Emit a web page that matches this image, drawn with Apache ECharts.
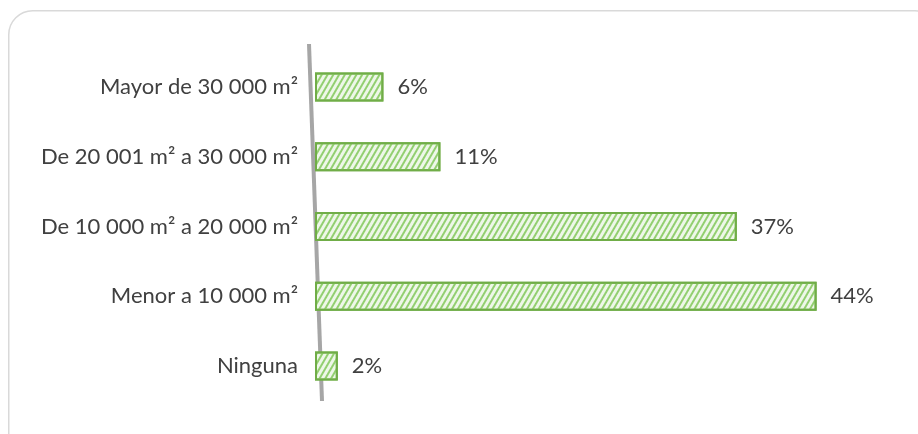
<!DOCTYPE html>
<html>
<head>
<meta charset="utf-8">
<script src="https://cdn.jsdelivr.net/npm/echarts@6/dist/echarts.min.js"></script>
<style>html,body{margin:0;padding:0;background:#fff}#c{width:918px;height:434px}</style>
</head>
<body>
<div id="c"></div>
<script>
const categories = ['Mayor de 30 000 m²', 'De 20 001 m² a 30 000 m²', 'De 10 000 m² a 20 000 m²', 'Menor a 10 000 m²', 'Ninguna'];
const values = [6, 11, 37, 44, 2];

const FONT = 'Lato, "Noto Sans", sans-serif';
const chart = echarts.init(document.getElementById('c'), null, {renderer: 'canvas'});
chart.setOption({
  animation: false,
  backgroundColor: '#fff',
  graphic: [{
    type: 'rect', left: 8, top: 10, z: -10,
    shape: {width: 930, height: 450, r: 24},
    style: {fill: '#fff', stroke: '#d9d9d9', lineWidth: 1.5}
  }, {
    type: 'line', z: -5,
    shape: {x1: 309, y1: 44, x2: 322, y2: 401},
    style: {stroke: '#a6a6a6', lineWidth: 4}
  }],
  grid: {left: 315, right: 33, top: 52, bottom: 33, containLabel: false},
  xAxis: {
    type: 'value', min: 0, max: 50, show: false
  },
  yAxis: {
    type: 'category', data: categories, inverse: true,
    axisLine: {show: false},
    axisTick: {show: false},
    axisLabel: {color: '#404040', fontSize: 22, fontFamily: FONT, margin: 17}
  },
  series: [{
    type: 'bar', data: values, barWidth: 29,
    itemStyle: {
      color: '#eef7e8', borderColor: '#70ad47', borderWidth: 2,
      decal: {symbol: 'rect', symbolSize: 1, color: '#93cf70', dashArrayX: [1, 0], dashArrayY: [2, 3], rotation: -Math.PI / 3}
    },
    label: {
      show: true, position: 'right', distance: 14, formatter: '{c}%',
      color: '#404040', fontSize: 22, fontFamily: FONT
    }
  }]
});
</script>
</body>
</html>
